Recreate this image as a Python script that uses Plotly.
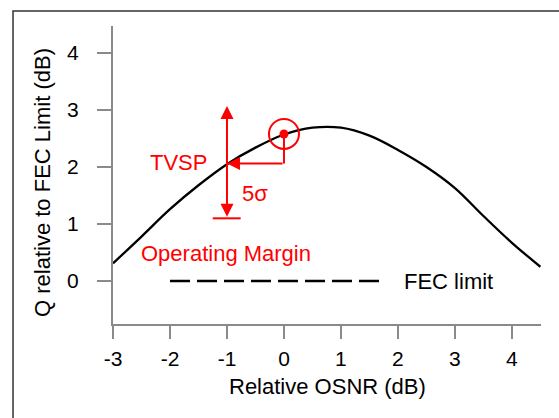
import plotly.graph_objects as go

# Data
osnr = [-3.0, -2.5, -2.0, -1.5, -1.0, -0.5, 0.0, 0.5, 1.0, 1.5, 2.0, 2.5, 3.0, 3.5, 4.0, 4.5]
q_margin = [0.31, 0.78, 1.26, 1.68, 2.05, 2.34, 2.57, 2.69, 2.69, 2.55, 2.30, 2.00, 1.63, 1.14, 0.67, 0.25]
fec_x = [-2.0, 1.75]
fec_y = [0.0, 0.0]
op_point_x = [0.0]
op_point_y = [2.58]
tvsp_y = 2.06
arrow_top = 3.07
arrow_bottom = 1.10
x_ticks = [-3, -2, -1, 0, 1, 2, 3, 4]
y_ticks = [0, 1, 2, 3, 4]

FONT = "Arial, Liberation Sans, sans-serif"
RED = "#ff0000"
GRAY = "#8a8a8a"

fig = go.Figure()
fig.add_trace(go.Scatter(x=osnr, y=q_margin, mode="lines", line=dict(color="black", width=2.3, shape="spline"),
                         showlegend=False, hoverinfo="skip"))
fig.add_trace(go.Scatter(x=fec_x, y=fec_y, mode="lines", line=dict(color="black", width=2.5, dash="20px,7px"),
                         showlegend=False, hoverinfo="skip"))
fig.add_trace(go.Scatter(x=op_point_x, y=op_point_y, mode="markers",
                         marker=dict(symbol="circle-open", size=30, color=RED, line=dict(color=RED, width=2)),
                         showlegend=False, hoverinfo="skip", cliponaxis=False))
fig.add_trace(go.Scatter(x=op_point_x, y=op_point_y, mode="markers",
                         marker=dict(symbol="circle", size=9, color=RED),
                         showlegend=False, hoverinfo="skip"))

shapes = [
    # vertical drop from operating point
    dict(type="line", xref="x", yref="y", x0=op_point_x[0], x1=op_point_x[0], y0=op_point_y[0], y1=tvsp_y,
         line=dict(color=RED, width=2)),
    # bottom bar
    dict(type="line", xref="x", yref="y", x0=-1.25, x1=-0.76, y0=arrow_bottom, y1=arrow_bottom,
         line=dict(color=RED, width=2)),
    # figure frame
    dict(type="rect", xref="paper", yref="paper", x0=-0.2336, x1=1.1, y0=-0.35, y1=1.0503,
         line=dict(color="#333333", width=1.5), fillcolor="rgba(0,0,0,0)", layer="above"),
]

annotations = [
    # vertical double arrow
    dict(x=-1, y=arrow_top, ax=-1, ay=arrow_bottom, xref="x", yref="y", axref="x", ayref="y",
         showarrow=True, arrowhead=2, startarrowhead=2, arrowside="end+start", arrowsize=1.3,
         arrowwidth=2, arrowcolor=RED, text=""),
    # horizontal arrow to TVSP
    dict(x=-1, y=tvsp_y, ax=0, ay=tvsp_y, xref="x", yref="y", axref="x", ayref="y",
         showarrow=True, arrowhead=2, arrowsize=1.3, arrowwidth=2, arrowcolor=RED, text=""),
    dict(x=-1.32, y=2.08, xref="x", yref="y", text="TVSP", showarrow=False, xanchor="right", yanchor="middle",
         font=dict(family=FONT, size=22, color=RED)),
    dict(x=-0.5, y=1.53, xref="x", yref="y", text="5σ", showarrow=False, xanchor="center", yanchor="middle",
         font=dict(family=FONT, size=22, color=RED)),
    dict(x=-1.01, y=0.49, xref="x", yref="y", text="Operating Margin", showarrow=False, xanchor="center",
         yanchor="middle", font=dict(family=FONT, size=22, color=RED)),
    dict(x=2.07, y=0.0, xref="x", yref="y", text="FEC limit", showarrow=False, xanchor="left", yanchor="middle",
         font=dict(family=FONT, size=22, color="black")),
    # axis titles
    dict(x=0.5, y=-62 / 298, xref="paper", yref="paper", text="Relative OSNR (dB)", showarrow=False,
         xanchor="center", yanchor="middle", font=dict(family=FONT, size=22, color="black")),
    dict(x=-71 / 428, y=(324 - 183) / 298, xref="paper", yref="paper", text="Q relative to FEC Limit (dB)",
         showarrow=False, textangle=-90, xanchor="center", yanchor="middle",
         font=dict(family=FONT, size=22, color="black")),
]

fig.update_layout(
    width=559, height=418,
    margin=dict(l=113, r=18, t=26, b=94),
    paper_bgcolor="white", plot_bgcolor="white",
    shapes=shapes, annotations=annotations,
    font=dict(family=FONT, size=21, color="black"),
    xaxis=dict(range=[-3, 4.51], tickvals=x_ticks, ticktext=[str(v) for v in x_ticks],
               showgrid=False, zeroline=False, showline=True, linecolor=GRAY, linewidth=2,
               ticks="outside", ticklen=13, tickwidth=2, tickcolor=GRAY, ticklabelstandoff=2),
    yaxis=dict(range=[-0.754, 4.474], tickvals=y_ticks, ticktext=[str(v) for v in y_ticks],
               showgrid=False, zeroline=False, showline=True, linecolor=GRAY, linewidth=2,
               ticks="outside", ticklen=14, tickwidth=2, tickcolor=GRAY, ticklabelstandoff=14),
)

fig.write_html("out.html")
